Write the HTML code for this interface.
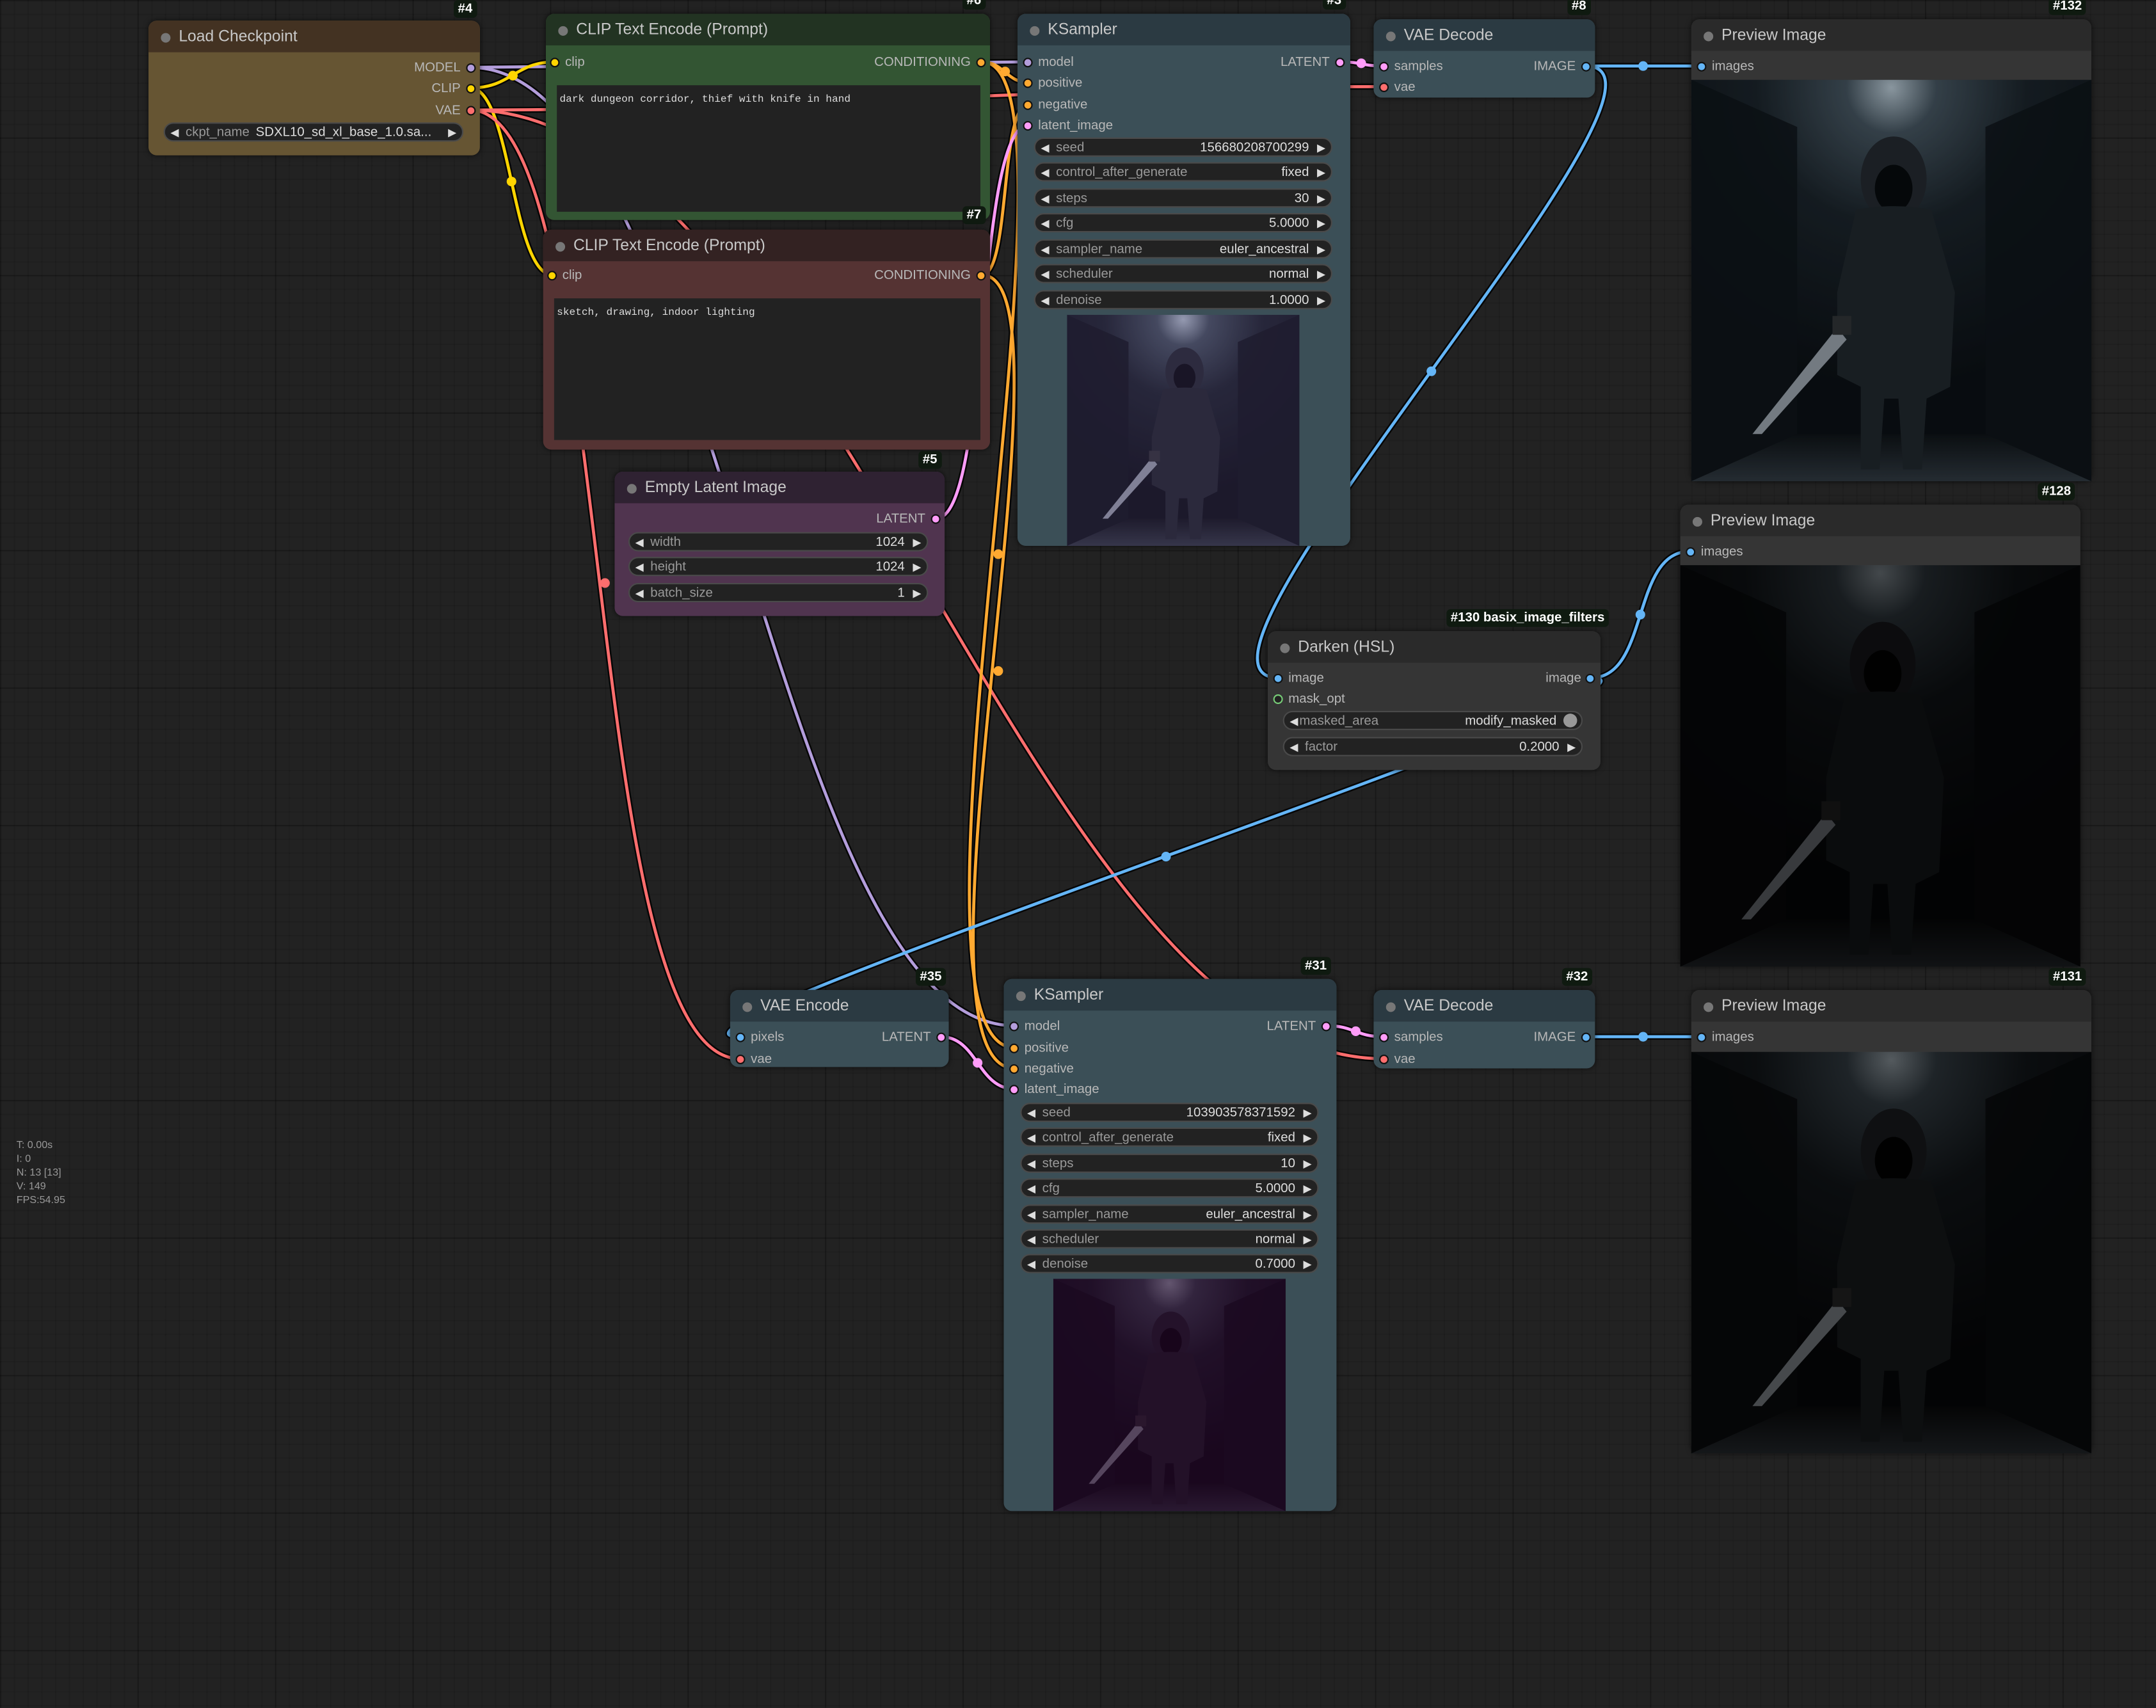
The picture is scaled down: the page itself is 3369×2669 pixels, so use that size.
<!DOCTYPE html>
<html><head><meta charset="utf-8">
<style>
html,body{margin:0;padding:0;background:#222;overflow:hidden}
#root{position:absolute;left:0;top:0;width:1568px;height:1242px;transform:scale(2.14860);transform-origin:0 0;
background-color:#222;
background-image:linear-gradient(rgba(0,0,0,0.2) 1px,transparent 1px),linear-gradient(90deg,rgba(0,0,0,0.2) 1px,transparent 1px),linear-gradient(rgba(0,0,0,0.1) 1px,transparent 1px),linear-gradient(90deg,rgba(0,0,0,0.1) 1px,transparent 1px);
background-size:100px 100px,100px 100px,10px 10px,10px 10px;
font-family:"Liberation Sans",sans-serif;}
.n{position:absolute;border-radius:6px;overflow:hidden;box-shadow:0 0 4px rgba(0,0,0,.6)}
.t{position:absolute;left:0;right:0;top:0;height:23px;line-height:25px;font-size:11.5px;color:#c8c8c8;padding-left:22px}
.t:before{content:"";position:absolute;left:9px;top:9px;width:7px;height:7px;border-radius:50%;background:#777}
.s{position:absolute;font-size:9.5px;color:#b8b8b8;line-height:12px;white-space:nowrap;margin-top:1px}
.d{position:absolute;width:5px;height:5px;border-radius:50%;border:1px solid #111}
.w{position:absolute;height:14px;border-radius:8px;background:#222;border:1px solid #4a4a4a;font-size:9.5px;line-height:14px;color:#999;box-sizing:border-box}
.w .l{position:absolute;left:15px}
.w .v{position:absolute;right:16px;color:#ddd}
.w:before{content:"◀";position:absolute;left:4px;top:0;color:#ddd;font-size:8px}
.w:after{content:"▶";position:absolute;right:4px;top:0;color:#ddd;font-size:8px}
.id{position:absolute;background:#0f1a10;color:#fff;font-weight:bold;font-size:9.5px;line-height:13px;padding:0 3px;border-radius:3px}
.ta{position:absolute;background:#222;font-family:"Liberation Mono",monospace;font-size:7.5px;color:#ddd;padding:7px 2px;box-sizing:border-box}
.img{position:absolute;overflow:hidden}
.stats{position:absolute;left:12px;top:828px;font-size:7.5px;color:#999;line-height:10px}
</style></head><body>
<div id="root">
<svg width="0" height="0" style="position:absolute">
<defs>
<radialGradient id="lt" cx="0.5" cy="0.02" r="0.75"><stop offset="0" stop-color="#a8b4bc"/><stop offset="0.15" stop-color="#3d4850"/><stop offset="0.45" stop-color="#161b1f"/><stop offset="1" stop-color="#07080a"/></radialGradient>
<linearGradient id="fl" x1="0" y1="0" x2="0" y2="1"><stop offset="0" stop-color="#0a0b0c"/><stop offset="1" stop-color="#2a2f34"/></linearGradient>
<symbol id="pic" viewBox="0 0 170 170" preserveAspectRatio="none">
<rect width="170" height="170" fill="url(#lt)"/>
<polygon points="0,0 45,20 45,150 0,170" fill="#0b0d0f" opacity="0.85"/>
<polygon points="170,0 125,20 125,150 170,170" fill="#0b0d0f" opacity="0.85"/>
<polygon points="45,150 125,150 170,170 0,170" fill="url(#fl)"/>
<ellipse cx="86" cy="42" rx="14" ry="18" fill="#1e2024"/>
<ellipse cx="86" cy="46" rx="8" ry="10" fill="#030303"/>
<path d="M70 55 Q86 52 102 55 L112 90 L110 130 L100 135 L98 165 L90 165 L88 135 L82 135 L80 165 L72 165 L72 130 L62 125 L62 90 Z" fill="#1b1e21"/>
<polygon points="62,105 66,110 30,150 26,150" fill="#8c9298"/>
<rect x="60" y="100" width="8" height="8" fill="#2a2a2a"/>
</symbol>
</defs>
</svg>

<!-- links -->
<svg style="position:absolute;left:0;top:0" width="1568" height="1242" fill="none" stroke-linecap="round">
<g stroke="#000" stroke-width="4.5" opacity="0.8">
<path d="M342 49 C392 49 698 45 748 45"/><path d="M342 49 C520 49 560 746 738 746"/>
<path d="M342 64 C372 64 374 45 404 45"/><path d="M342 64 C372 64 372 200 402 200"/>
<path d="M342 80 C600 80 750 63 1006 63"/><path d="M342 80 C450 80 420 770 538 770"/><path d="M342 80 C600 80 750 770 1006 770"/>
<path d="M714 45 C730 45 732 60 748 60"/><path d="M714 45 C800 45 640 762 738 762"/>
<path d="M714 200 C735 200 727 76 748 76"/><path d="M714 200 C790 200 650 777 738 777"/>
<path d="M681 377 C720 377 709 91 748 91"/><path d="M975 45 C990 45 991 48 1006 48"/>
<path d="M1153 48 C1195 48 1195 48 1237 48"/><path d="M1153 48 C1250 48 830 493 930 493"/>
<path d="M1157 493 C1200 493 1186 401 1229 401"/><path d="M1157 493 C1250 493 440 754 538 754"/>
<path d="M684 754 C711 754 711 792 738 792"/><path d="M965 746 C985 746 986 754 1006 754"/><path d="M1153 754 C1195 754 1195 754 1237 754"/>
</g>
<g stroke-width="2.2">
<path stroke="#b39ddb" d="M342 49 C392 49 698 45 748 45"/><path stroke="#b39ddb" d="M342 49 C520 49 560 746 738 746"/>
<path stroke="#ffd500" d="M342 64 C372 64 374 45 404 45"/><path stroke="#ffd500" d="M342 64 C372 64 372 200 402 200"/>
<path stroke="#ff6e6e" d="M342 80 C600 80 750 63 1006 63"/><path stroke="#ff6e6e" d="M342 80 C450 80 420 770 538 770"/><path stroke="#ff6e6e" d="M342 80 C600 80 750 770 1006 770"/>
<path stroke="#ffa931" d="M714 45 C730 45 732 60 748 60"/><path stroke="#ffa931" d="M714 45 C800 45 640 762 738 762"/>
<path stroke="#ffa931" d="M714 200 C735 200 727 76 748 76"/><path stroke="#ffa931" d="M714 200 C790 200 650 777 738 777"/>
<path stroke="#ff9cf9" d="M681 377 C720 377 709 91 748 91"/><path stroke="#ff9cf9" d="M975 45 C990 45 991 48 1006 48"/>
<path stroke="#64b5f6" d="M1153 48 C1195 48 1195 48 1237 48"/><path stroke="#64b5f6" d="M1153 48 C1250 48 830 493 930 493"/>
<path stroke="#64b5f6" d="M1157 493 C1200 493 1186 401 1229 401"/><path stroke="#64b5f6" d="M1157 493 C1250 493 440 754 538 754"/>
<path stroke="#ff9cf9" d="M684 754 C711 754 711 792 738 792"/><path stroke="#ff9cf9" d="M965 746 C985 746 986 754 1006 754"/><path stroke="#64b5f6" d="M1153 754 C1195 754 1195 754 1237 754"/>
</g>
<g stroke="none">
<circle cx="372" cy="132" r="3.5" fill="#ffd500"/><circle cx="373" cy="55" r="3.5" fill="#ffd500"/>
<circle cx="440" cy="424" r="3.5" fill="#ff6e6e"/>
<circle cx="726" cy="403" r="3.5" fill="#ffa931"/><circle cx="726" cy="488" r="3.5" fill="#ffa931"/>
<circle cx="731" cy="52" r="3.5" fill="#ffa931"/>
<circle cx="1041" cy="270" r="3.5" fill="#64b5f6"/><circle cx="848" cy="623" r="3.5" fill="#64b5f6"/>
<circle cx="1195" cy="48" r="3.5" fill="#64b5f6"/><circle cx="1195" cy="754" r="3.5" fill="#64b5f6"/>
<circle cx="1193" cy="447" r="3.5" fill="#64b5f6"/>
<circle cx="990" cy="46" r="3.5" fill="#ff9cf9"/><circle cx="986" cy="750" r="3.5" fill="#ff9cf9"/>
<circle cx="711" cy="773" r="3.5" fill="#ff9cf9"/>
</g>
</svg>

<!-- Load Checkpoint -->
<div class="n" style="left:108px;top:15px;width:241px;height:98px;background:#665533">
<div class="t" style="background:#433222">Load Checkpoint</div></div>
<div class="id" style="left:330px;top:0px">#4</div>
<div class="s" style="left:280px;top:43px;width:55px;text-align:right">MODEL</div><div class="d" style="left:339px;top:46px;background:#b39ddb"></div>
<div class="s" style="left:280px;top:58px;width:55px;text-align:right">CLIP</div><div class="d" style="left:339px;top:61px;background:#ffd500"></div>
<div class="s" style="left:280px;top:74px;width:55px;text-align:right">VAE</div><div class="d" style="left:339px;top:77px;background:#ff6e6e"></div>
<div class="w" style="left:119px;top:89px;width:218px"><span class="l">ckpt_name</span><span class="v" style="left:66px;right:auto">SDXL10_sd_xl_base_1.0.sa...</span></div>

<!-- CLIP #6 -->
<div class="n" style="left:397px;top:10px;width:323px;height:150px;background:#335533">
<div class="t" style="background:#223322">CLIP Text Encode (Prompt)</div></div>
<div class="id" style="left:700px;top:-6px">#6</div>
<div class="d" style="left:400px;top:42px;background:#ffd500"></div><div class="s" style="left:411px;top:39px">clip</div>
<div class="s" style="left:600px;top:39px;width:106px;text-align:right">CONDITIONING</div><div class="d" style="left:710px;top:42px;background:#ffa931"></div>
<div class="ta" style="left:405px;top:62px;width:308px;height:92px">dark dungeon corridor, thief with knife in hand</div>
<div class="id" style="left:700px;top:150px">#7</div>

<!-- CLIP #7 -->
<div class="n" style="left:395px;top:167px;width:325px;height:160px;background:#553333">
<div class="t" style="background:#332222">CLIP Text Encode (Prompt)</div></div>
<div class="d" style="left:398px;top:197px;background:#ffd500"></div><div class="s" style="left:409px;top:194px">clip</div>
<div class="s" style="left:600px;top:194px;width:106px;text-align:right">CONDITIONING</div><div class="d" style="left:710px;top:197px;background:#ffa931"></div>
<div class="ta" style="left:403px;top:217px;width:310px;height:103px">sketch, drawing, indoor lighting</div>

<!-- Empty Latent -->
<div class="n" style="left:447px;top:343px;width:240px;height:105px;background:#50344f">
<div class="t" style="background:#2f2232">Empty Latent Image</div></div>
<div class="id" style="left:668px;top:328px">#5</div>
<div class="s" style="left:600px;top:371px;width:73px;text-align:right">LATENT</div><div class="d" style="left:677px;top:374px;background:#ff9cf9"></div>
<div class="w" style="left:457px;top:387px;width:218px"><span class="l">width</span><span class="v">1024</span></div>
<div class="w" style="left:457px;top:405px;width:218px"><span class="l">height</span><span class="v">1024</span></div>
<div class="w" style="left:457px;top:424px;width:218px"><span class="l">batch_size</span><span class="v">1</span></div>

<!-- KSampler #3 -->
<div class="n" style="left:740px;top:10px;width:242px;height:387px;background:#3b4f57">
<div class="t" style="background:#2b3a42">KSampler</div></div>
<div class="id" style="left:962px;top:-6px">#3</div>
<div class="d" style="left:744px;top:42px;background:#b39ddb"></div><div class="s" style="left:755px;top:39px">model</div>
<div class="d" style="left:744px;top:57px;background:#ffa931"></div><div class="s" style="left:755px;top:54px">positive</div>
<div class="d" style="left:744px;top:73px;background:#ffa931"></div><div class="s" style="left:755px;top:70px">negative</div>
<div class="d" style="left:744px;top:88px;background:#ff9cf9"></div><div class="s" style="left:755px;top:85px">latent_image</div>
<div class="s" style="left:900px;top:39px;width:67px;text-align:right">LATENT</div><div class="d" style="left:971px;top:42px;background:#ff9cf9"></div>
<div class="w" style="left:752px;top:100px;width:217px"><span class="l">seed</span><span class="v">156680208700299</span></div>
<div class="w" style="left:752px;top:118px;width:217px"><span class="l">control_after_generate</span><span class="v">fixed</span></div>
<div class="w" style="left:752px;top:137px;width:217px"><span class="l">steps</span><span class="v">30</span></div>
<div class="w" style="left:752px;top:155px;width:217px"><span class="l">cfg</span><span class="v">5.0000</span></div>
<div class="w" style="left:752px;top:174px;width:217px"><span class="l">sampler_name</span><span class="v">euler_ancestral</span></div>
<div class="w" style="left:752px;top:192px;width:217px"><span class="l">scheduler</span><span class="v">normal</span></div>
<div class="w" style="left:752px;top:211px;width:217px"><span class="l">denoise</span><span class="v">1.0000</span></div>
<svg class="img" style="left:776px;top:229px" width="169" height="168"><use href="#pic" width="169" height="168"/><rect width="169" height="168" fill="#5a4a90" opacity="0.25"/></svg>

<!-- VAE Decode #8 -->
<div class="n" style="left:999px;top:14px;width:161px;height:57px;background:#3b4f57">
<div class="t" style="background:#2b3a42">VAE Decode</div></div>
<div class="id" style="left:1140px;top:-2px">#8</div>
<div class="d" style="left:1003px;top:45px;background:#ff9cf9"></div><div class="s" style="left:1014px;top:42px">samples</div>
<div class="d" style="left:1003px;top:60px;background:#ff6e6e"></div><div class="s" style="left:1014px;top:57px">vae</div>
<div class="s" style="left:1090px;top:42px;width:56px;text-align:right">IMAGE</div><div class="d" style="left:1150px;top:45px;background:#64b5f6"></div>

<!-- Preview #132 -->
<div class="n" style="left:1230px;top:14px;width:291px;height:336px;background:#353535">
<div class="t" style="background:#2a2a2a">Preview Image</div></div>
<div class="id" style="left:1490px;top:-2px">#132</div>
<div class="d" style="left:1234px;top:45px;background:#64b5f6"></div><div class="s" style="left:1245px;top:42px">images</div>
<svg class="img" style="left:1230px;top:58px" width="291" height="292"><use href="#pic" width="291" height="292"/><rect width="291" height="292" fill="#10202a" opacity="0.2"/></svg>

<!-- Preview #128 -->
<div class="n" style="left:1222px;top:367px;width:291px;height:336px;background:#353535">
<div class="t" style="background:#2a2a2a">Preview Image</div></div>
<div class="id" style="left:1482px;top:351px">#128</div>
<div class="d" style="left:1226px;top:398px;background:#64b5f6"></div><div class="s" style="left:1237px;top:395px">images</div>
<svg class="img" style="left:1222px;top:411px" width="291" height="292"><use href="#pic" width="291" height="292"/><rect width="291" height="292" fill="#000" opacity="0.6"/></svg>

<!-- Darken -->
<div class="n" style="left:922px;top:459px;width:242px;height:101px;background:#353535">
<div class="t" style="background:#2a2a2a">Darken (HSL)</div></div>
<div class="id" style="left:1052px;top:443px;background:#0f1a10">#130 basix_image_filters</div>
<div class="d" style="left:926px;top:490px;background:#64b5f6"></div><div class="s" style="left:937px;top:487px">image</div>
<div class="d" style="left:926px;top:505px;background:#222;border-color:#7c7"></div><div class="s" style="left:937px;top:502px">mask_opt</div>
<div class="s" style="left:1090px;top:487px;width:60px;text-align:right">image</div><div class="d" style="left:1153px;top:490px;background:#64b5f6"></div>
<div class="w" style="left:933px;top:517px;width:218px"><span class="l" style="left:11px">masked_area</span><span class="v" style="right:18px">modify_masked</span><span style="position:absolute;right:3px;top:1px;width:10px;height:10px;border-radius:50%;background:#999;z-index:2"></span></div>
<div class="w" style="left:933px;top:536px;width:218px"><span class="l">factor</span><span class="v">0.2000</span></div>

<!-- VAE Encode #35 -->
<div class="n" style="left:531px;top:720px;width:159px;height:56px;background:#3b4f57">
<div class="t" style="background:#2b3a42">VAE Encode</div></div>
<div class="id" style="left:666px;top:704px">#35</div>
<div class="d" style="left:535px;top:751px;background:#64b5f6"></div><div class="s" style="left:546px;top:748px">pixels</div>
<div class="d" style="left:535px;top:767px;background:#ff6e6e"></div><div class="s" style="left:546px;top:764px">vae</div>
<div class="s" style="left:620px;top:748px;width:57px;text-align:right">LATENT</div><div class="d" style="left:681px;top:751px;background:#ff9cf9"></div>

<!-- KSampler #31 -->
<div class="n" style="left:730px;top:712px;width:242px;height:387px;background:#3b4f57">
<div class="t" style="background:#2b3a42">KSampler</div></div>
<div class="id" style="left:946px;top:696px">#31</div>
<div class="d" style="left:734px;top:743px;background:#b39ddb"></div><div class="s" style="left:745px;top:740px">model</div>
<div class="d" style="left:734px;top:759px;background:#ffa931"></div><div class="s" style="left:745px;top:756px">positive</div>
<div class="d" style="left:734px;top:774px;background:#ffa931"></div><div class="s" style="left:745px;top:771px">negative</div>
<div class="d" style="left:734px;top:789px;background:#ff9cf9"></div><div class="s" style="left:745px;top:786px">latent_image</div>
<div class="s" style="left:890px;top:740px;width:67px;text-align:right">LATENT</div><div class="d" style="left:961px;top:743px;background:#ff9cf9"></div>
<div class="w" style="left:742px;top:802px;width:217px"><span class="l">seed</span><span class="v">103903578371592</span></div>
<div class="w" style="left:742px;top:820px;width:217px"><span class="l">control_after_generate</span><span class="v">fixed</span></div>
<div class="w" style="left:742px;top:839px;width:217px"><span class="l">steps</span><span class="v">10</span></div>
<div class="w" style="left:742px;top:857px;width:217px"><span class="l">cfg</span><span class="v">5.0000</span></div>
<div class="w" style="left:742px;top:876px;width:217px"><span class="l">sampler_name</span><span class="v">euler_ancestral</span></div>
<div class="w" style="left:742px;top:894px;width:217px"><span class="l">scheduler</span><span class="v">normal</span></div>
<div class="w" style="left:742px;top:912px;width:217px"><span class="l">denoise</span><span class="v">0.7000</span></div>
<svg class="img" style="left:766px;top:930px" width="169" height="169"><use href="#pic" width="169" height="169"/><rect width="169" height="169" fill="#2a0830" opacity="0.55"/></svg>

<!-- VAE Decode #32 -->
<div class="n" style="left:999px;top:720px;width:161px;height:57px;background:#3b4f57">
<div class="t" style="background:#2b3a42">VAE Decode</div></div>
<div class="id" style="left:1136px;top:704px">#32</div>
<div class="d" style="left:1003px;top:751px;background:#ff9cf9"></div><div class="s" style="left:1014px;top:748px">samples</div>
<div class="d" style="left:1003px;top:767px;background:#ff6e6e"></div><div class="s" style="left:1014px;top:764px">vae</div>
<div class="s" style="left:1090px;top:748px;width:56px;text-align:right">IMAGE</div><div class="d" style="left:1150px;top:751px;background:#64b5f6"></div>

<!-- Preview #131 -->
<div class="n" style="left:1230px;top:720px;width:291px;height:337px;background:#353535">
<div class="t" style="background:#2a2a2a">Preview Image</div></div>
<div class="id" style="left:1490px;top:704px">#131</div>
<div class="d" style="left:1234px;top:751px;background:#64b5f6"></div><div class="s" style="left:1245px;top:748px">images</div>
<svg class="img" style="left:1230px;top:765px" width="291" height="292"><use href="#pic" width="291" height="292"/><rect width="291" height="292" fill="#000" opacity="0.5"/></svg>

<div class="stats">T: 0.00s<br>I: 0<br>N: 13 [13]<br>V: 149<br>FPS:54.95</div>
</div>
</body></html>
